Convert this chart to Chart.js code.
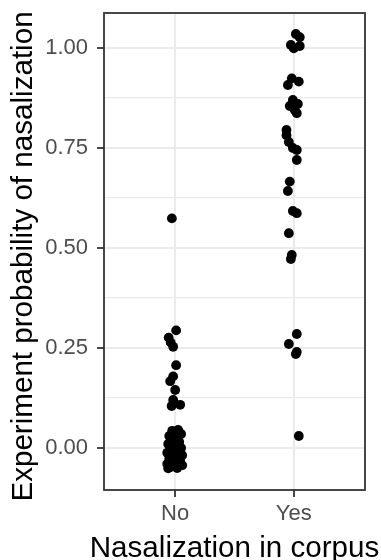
<!DOCTYPE html>
<html>
<head>
<meta charset="utf-8">
<script src="https://cdn.jsdelivr.net/npm/chart.js@4"></script>
<style>
  body { margin: 0; background: #fff; }
  canvas { display: block; }
</style>
</head>
<body>
<canvas id="Chart1" width="381" height="560"></canvas>
<script>
// categories on the x axis
const categories = ['No', 'Yes'];
const xTitle = 'Nasalization in corpus';
const yTitle = 'Experiment probability of nasalization';

// "No" group: probability values and jittered x positions
const noY = [0.574, 0.294, 0.276, 0.264, 0.253, 0.207, 0.179, 0.167, 0.145, 0.12, 0.108, 0.105,
  0.045, 0.043, 0.035, 0.03, 0.025, 0.02, 0.015, 0.01, 0.005, 0.0, -0.003, -0.008,
  -0.012, -0.018, -0.022, -0.027, -0.032, -0.035, -0.04, -0.043, -0.047, -0.05, -0.051];
const noX = [0.972, 1.008, 0.945, 0.962, 0.983, 1.008, 0.983, 0.958, 1.0, 0.983, 1.042, 0.97,
  1.025, 0.975, 1.05, 0.95, 1.008, 0.966, 1.034, 0.941, 0.992, 1.05, 0.958, 1.017,
  0.933, 1.059, 0.983, 0.95, 1.042, 1.0, 0.933, 1.059, 0.966, 1.017, 0.941];

// "Yes" group
const yesY = [1.035, 1.027, 1.0075, 1.005, 0.999, 0.924, 0.916, 0.9075, 0.87, 0.86, 0.855, 0.845,
  0.837, 0.795, 0.782, 0.765, 0.75, 0.745, 0.72, 0.666, 0.6425, 0.5925, 0.587, 0.537,
  0.4825, 0.4725, 0.285, 0.26, 0.24, 0.235, 0.03];
const yesX = [2.017, 2.05, 1.975, 2.05, 2.0, 1.983, 2.042, 1.95, 1.992, 2.034, 1.966, 2.008,
  2.025, 1.938, 1.938, 1.958, 1.992, 2.025, 2.025, 1.966, 1.95, 1.992, 2.025, 1.958,
  1.983, 1.975, 2.025, 1.958, 2.025, 2.017, 2.042];

const yTicks = [0, 0.125, 0.25, 0.375, 0.5, 0.625, 0.75, 0.875, 1.0];

const points = [];
for (let i = 0; i < noY.length; i++) points.push({ x: noX[i], y: noY[i] });
for (let i = 0; i < yesY.length; i++) points.push({ x: yesX[i], y: yesY[i] });

const isMajor = v => Math.abs(v / 0.25 - Math.round(v / 0.25)) < 1e-6;
const fontFam = '"Liberation Sans", Arial, sans-serif';

// ggplot-like panel border + axis titles (drawn without width squeezing)
const panelBorder = {
  id: 'panelBorder',
  afterDraw(chart) {
    const a = chart.chartArea;
    const c = chart.ctx;
    c.save();
    c.strokeStyle = '#333333';
    c.lineWidth = 1.8;
    c.strokeRect(a.left, a.top, a.right - a.left, a.bottom - a.top);

    c.fillStyle = '#000000';
    c.font = '29.6px ' + fontFam;
    c.textAlign = 'center';
    c.textBaseline = 'alphabetic';
    c.fillText(xTitle, (a.left + a.right) / 2, 556.5);

    c.translate(31.7, (a.top + a.bottom) / 2 + 5);
    c.rotate(-Math.PI / 2);
    c.fillText(yTitle, 0, 0);
    c.restore();
  }
};

const ctx = document.getElementById('Chart1');
const config = {
  type: 'scatter',
  data: {
    datasets: [{
      data: points,
      backgroundColor: '#000000',
      borderWidth: 0,
      pointRadius: 4.9
    }]
  },
  options: {
    responsive: false,
    animation: false,
    devicePixelRatio: 1,
    layout: { padding: { left: 0, right: 16, top: 13, bottom: 0 } },
    plugins: { legend: { display: false }, tooltip: { enabled: false } },
    scales: {
      x: {
        type: 'linear',
        min: 0.4,
        max: 2.6,
        afterBuildTicks: s => { s.ticks = [{ value: 1 }, { value: 2 }]; },
        afterFit: s => { s.height = 70; s.paddingLeft = 0; s.paddingRight = 0; },
        border: { display: false },
        grid: { color: '#EBEBEB', lineWidth: 2, tickColor: '#333333', tickLength: 7, tickWidth: 1.8 },
        ticks: {
          autoSkip: false,
          maxRotation: 0,
          padding: 4,
          color: '#4D4D4D',
          font: { family: fontFam, size: 22 },
          callback: v => categories[Math.round(v) - 1]
        }
      },
      y: {
        min: -0.105,
        max: 1.0875,
        afterBuildTicks: s => { s.ticks = yTicks.map(v => ({ value: v })); },
        afterFit: s => { s.width = 104; s.paddingTop = 0; s.paddingBottom = 0; },
        border: { display: false },
        grid: {
          color: '#EBEBEB',
          lineWidth: c => (c.tick && isMajor(c.tick.value)) ? 2 : 1.2,
          tickColor: c => (c.tick && isMajor(c.tick.value)) ? '#333333' : 'rgba(0,0,0,0)',
          tickLength: 7,
          tickWidth: 1.8
        },
        ticks: {
          autoSkip: false,
          padding: 9,
          color: '#4D4D4D',
          font: { family: fontFam, size: 22 },
          callback: v => isMajor(v) ? v.toFixed(2) : ''
        }
      }
    }
  },
  plugins: [panelBorder]
};

const myChart = new Chart(ctx, config);
</script>
</body>
</html>
